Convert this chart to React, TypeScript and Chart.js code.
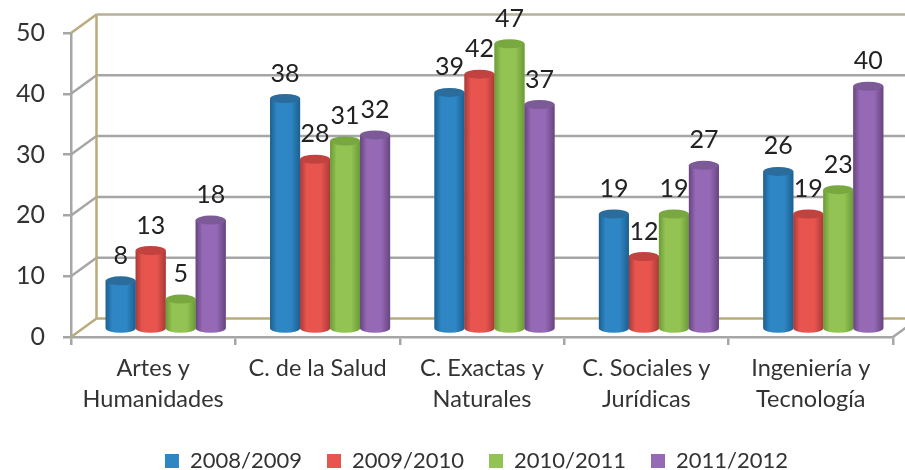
import React, { useEffect, useRef } from "react";
import { Chart, registerables } from "chart.js";

Chart.register(...registerables);

const categories = [
  ["Artes y", "Humanidades"],
  ["C. de la Salud"],
  ["C. Exactas y", "Naturales"],
  ["C. Sociales y", "Jurídicas"],
  ["Ingeniería y", "Tecnología"],
];
const seriesNames = ["2008/2009", "2009/2010", "2010/2011", "2011/2012"];
const values0809 = [8, 38, 39, 19, 26];
const values0910 = [13, 28, 42, 12, 19];
const values1011 = [5, 31, 47, 19, 23];
const values1112 = [18, 32, 37, 27, 40];
const allValues = [values0809, values0910, values1011, values1112];
const baseColors = ["#2e86c4", "#e8554f", "#93c353", "#9569b5"];
const edgeColors = ["#1d5f8f", "#a83a38", "#6b9a38", "#67457f"];
const capColors = ["#2a6c9c", "#c2423f", "#78a83f", "#7c5a98"];

const FONT = "Lato, 'Open Sans', sans-serif";
const TEXT = "#333333";
const GRID = "#a6a6a6";
const TAN = "#b8ab7c";
const DX = 25.5;
const DY = -18.5;
const BAR_DX = 12.5;
const BAR_DY = -7.5;
const RY = 4.5;
const LEGEND_SHIFT = 30;

const scene = {
  id: "scene",
  afterLayout(chart: any) {
    chart.legend.left += LEGEND_SHIFT;
    chart.legend.right += LEGEND_SHIFT;
  },
  beforeDatasetsDraw(chart: any) {
    const { ctx, chartArea: a, scales } = chart;
    const yS = scales.y;
    ctx.save();
    ctx.lineWidth = 2.5;
    for (const t of yS.ticks) {
      const py = yS.getPixelForValue(t.value);
      ctx.strokeStyle = t.value === 0 || t.value === 50 ? TAN : GRID;
      ctx.beginPath();
      ctx.moveTo(a.left, py);
      ctx.lineTo(a.left + DX, py + DY);
      ctx.stroke();
      ctx.strokeStyle = t.value === 0 ? TAN : t.value === 50 ? "#b5b09a" : GRID;
      ctx.beginPath();
      ctx.moveTo(a.left + DX, py + DY);
      ctx.lineTo(a.right + DX, py + DY);
      ctx.stroke();
    }
    ctx.strokeStyle = TAN;
    ctx.beginPath();
    ctx.moveTo(a.left + DX, a.top + DY);
    ctx.lineTo(a.left + DX, a.bottom + DY);
    ctx.stroke();
    ctx.strokeStyle = GRID;
    ctx.beginPath();
    ctx.moveTo(a.right, a.bottom);
    ctx.lineTo(a.right + DX, a.bottom + DY);
    ctx.stroke();
    ctx.restore();
    ctx.save();
    ctx.translate(BAR_DX, BAR_DY);
  },
  afterDatasetsDraw(chart: any) {
    const { ctx } = chart;
    chart.data.datasets.forEach((_: any, i: number) => {
      const meta = chart.getDatasetMeta(i);
      meta.data.forEach((bar: any) => {
        const x0 = bar.x - bar.width / 2;
        const x1 = bar.x + bar.width / 2;
        const rx = bar.width / 2;
        const g = ctx.createLinearGradient(x0, 0, x1, 0);
        g.addColorStop(0, edgeColors[i]);
        g.addColorStop(0.22, baseColors[i]);
        g.addColorStop(0.7, baseColors[i]);
        g.addColorStop(1, edgeColors[i]);
        ctx.fillStyle = g;
        ctx.beginPath();
        ctx.moveTo(x0, bar.y);
        ctx.lineTo(x0, bar.base);
        ctx.ellipse(bar.x, bar.base, rx, RY, 0, Math.PI, 0, true);
        ctx.lineTo(x1, bar.y);
        ctx.closePath();
        ctx.fill();
        ctx.fillStyle = capColors[i];
        ctx.beginPath();
        ctx.ellipse(bar.x, bar.y, rx, RY, 0, 0, Math.PI * 2);
        ctx.fill();
      });
    });
    chart.data.datasets.forEach((ds: any, i: number) => {
      const meta = chart.getDatasetMeta(i);
      ctx.fillStyle = "#222222";
      ctx.font = "25px " + FONT;
      ctx.textAlign = "center";
      ctx.textBaseline = "middle";
      meta.data.forEach((bar: any, j: number) => {
        ctx.fillText(String(ds.data[j]), bar.x, bar.y - 25);
      });
    });
    ctx.restore();
  },
};

export default function App() {
  const ref = useRef<HTMLCanvasElement>(null);
  useEffect(() => {
    document.body.style.margin = "0";
    const chart = new Chart(ref.current!, {
      type: "bar",
      data: {
        labels: categories as any,
        datasets: seriesNames.map((name, i) => ({
          label: name,
          data: allValues[i],
          backgroundColor: baseColors[i],
          borderWidth: 0,
          barPercentage: 1,
          categoryPercentage: 0.73,
        })),
      },
      options: {
        responsive: false,
        animation: false,
        layout: { padding: { top: 32, right: 12, left: 0, bottom: -12 } },
        plugins: {
          tooltip: { enabled: false },
          legend: {
            position: "bottom",
            labels: {
              color: TEXT,
              font: { family: FONT, size: 22 },
              boxWidth: 14,
              boxHeight: 14,
              padding: 25,
            },
          },
        },
        scales: {
          x: {
            afterFit(s: any) {
              s.height = 88;
            },
            grid: { drawOnChartArea: false, color: GRID, lineWidth: 2.5, tickLength: 8 },
            border: { color: GRID, width: 2.5 },
            ticks: {
              color: TEXT,
              font: { family: FONT, size: 23.5, lineHeight: 1.32 },
              padding: 8,
              maxRotation: 0,
              autoSkip: false,
            },
          },
          y: {
            min: 0,
            max: 50,
            afterFit(s: any) {
              s.width = 71;
            },
            grid: { drawOnChartArea: false, color: GRID, lineWidth: 2.5, tickLength: 8 },
            border: { color: GRID, width: 2.5 },
            ticks: {
              stepSize: 10,
              color: TEXT,
              font: { family: FONT, size: 25 },
              padding: 18,
            },
          },
        },
      },
      plugins: [scene],
    } as any);
    return () => chart.destroy();
  }, []);
  return (
    <canvas
      ref={ref}
      width={905}
      height={470}
      style={{ display: "block", filter: "blur(0.5px)" }}
    />
  );
}
